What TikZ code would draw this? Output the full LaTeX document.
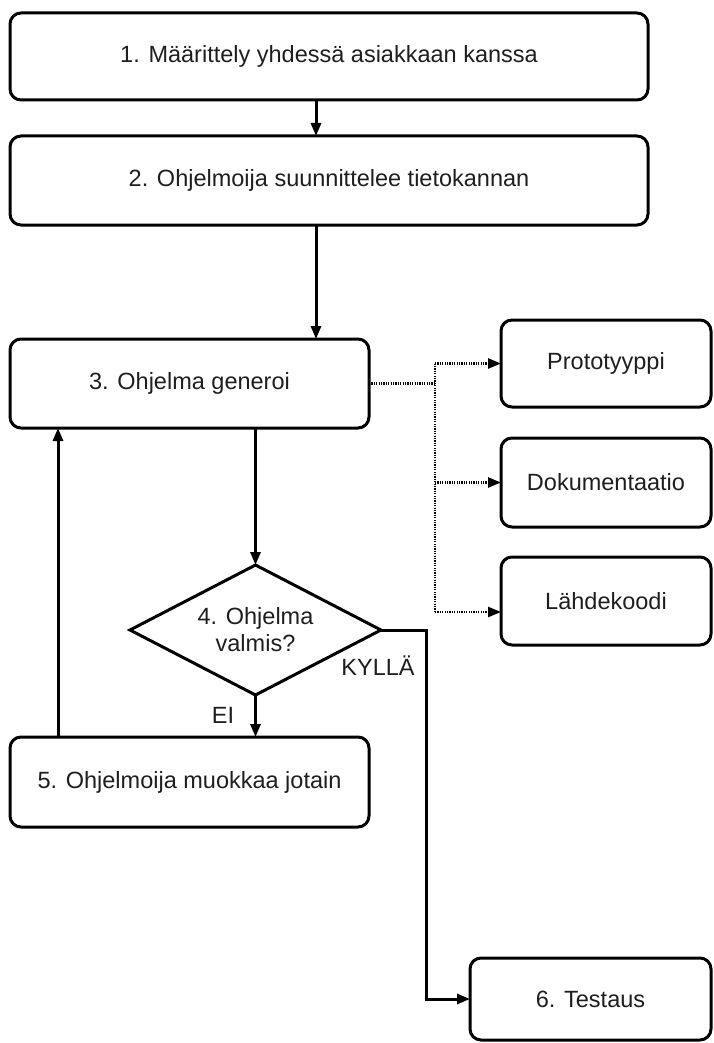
\documentclass[tikz,border=0pt]{standalone}
\usepackage{fontspec}
\setmainfont{Liberation Sans}
\usetikzlibrary{arrows.meta,shapes.geometric}
\newcommand\boxfont{\fontsize{23.5}{27}\selectfont}
\definecolor{txt}{HTML}{1E1E1E}
\begin{document}
\begin{tikzpicture}[x=1pt,y=-1pt,
  box/.style={draw, line width=3pt, rounded corners=11pt, inner sep=0pt, outer sep=0pt, font=\boxfont, text=txt, align=center},
  lbl/.style={font=\boxfont, text=txt, inner sep=0pt},
  arr/.style={line width=3pt, -{Triangle[length=13pt,width=10pt]}},
  dotline/.style={line width=2.5pt, dash pattern=on 1.2pt off 1.2pt},
  dotarr/.style={dotline, -{Triangle[length=13pt,width=10pt]}}]
\useasboundingbox (0,0) rectangle (713,1043);

\node[box, minimum width=638pt, minimum height=87pt] (b1) at (329,56.5) {1. Määrittely yhdessä asiakkaan kanssa};
\node[box, minimum width=638pt, minimum height=89pt] (b2) at (329,180.5) {2. Ohjelmoija suunnittelee tietokannan};
\node[box, minimum width=359pt, minimum height=89pt] (b3) at (189.5,383.5) {3. Ohjelma generoi};
\node[draw, line width=3pt, shape=diamond, aspect=1.93, minimum width=251pt, minimum height=130pt, inner sep=0pt, outer sep=0pt, font=\boxfont, text=txt, align=center] (d) at (255.5,630) {4. Ohjelma\\valmis?};
\node[box, minimum width=359pt, minimum height=90pt] (b5) at (189.5,782) {5. Ohjelmoija muokkaa jotain};
\node[box, minimum width=210pt, minimum height=87pt] (p) at (606,363.5) {Prototyyppi};
\node[box, minimum width=210pt, minimum height=89pt] (dk) at (606,482.5) {Dokumentaatio};
\node[box, minimum width=210pt, minimum height=88pt] (l) at (606,601) {Lähdekoodi};
\node[box, minimum width=241pt, minimum height=82pt] (b6) at (590.5,999) {6. Testaus};

\node[lbl] (yes) at (378,666) {KYLLÄ};
\node[lbl] (no) at (223,715) {EI};

% solid connectors
\draw[arr] ([xshift=-13pt]b1.south) -- ([xshift=-13pt]b2.north);
\path ([xshift=-13pt]b2.south) coordinate (a2);
\draw[arr] (a2) -- (a2 |- b3.north);
\draw[arr] (d.north |- b3.south) -- (d.north);
\draw[arr] (d.south) -- (d.south |- b5.north);
\coordinate (k) at (426,630);
\draw[arr] (d.east) -- (k) |- (b6.west);
\path ([xshift=-131.5pt]b5.north) coordinate (a5);
\draw[arr] (a5) -- (a5 |- b3.south);

% dotted connectors
\coordinate (j) at (435,383.5);
\draw[dotline] (b3.east) -- (j);
\path ([yshift=-11pt]l.west) coordinate (lw);
\draw[dotline] (j |- p.west) -- (j |- lw);
\draw[dotarr] (j |- p.west) -- (p.west);
\draw[dotarr] (j |- dk.west) -- (dk.west);
\draw[dotarr] (j |- lw) -- (lw);
\end{tikzpicture}
\end{document}
